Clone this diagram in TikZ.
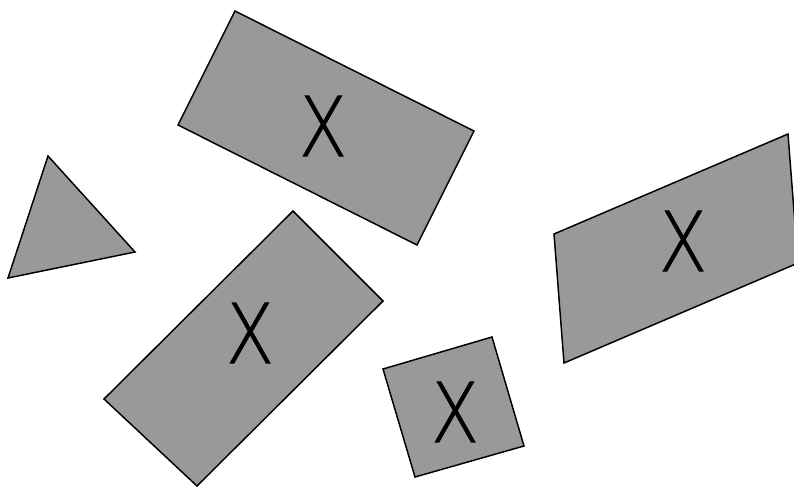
\documentclass[tikz,border=0pt]{standalone}
\usepackage{fontspec}
\newfontfamily\xfont{DejaVu Sans ExtraLight}[FakeBold=1]
\usepackage{tikz}
\tikzset{
  tile/.style={draw=black,fill=black!40,line width=1.1pt,line join=miter},
  mk/.style={inner sep=0pt,font=\xfont\fontsize{62}{62}\selectfont,xscale=0.85}
}

\begin{document}
\begin{tikzpicture}[x=0.75pt,y=-0.75pt]
\useasboundingbox (0,0) rectangle (794,487);
\clip (0,0) rectangle (794,487);
\draw[tile] (235,11) -- (474,131) -- (417,245) -- (178,125) -- cycle; \node[mk] (xa) at (323,126) {X};
\draw[tile] (48,156) -- (135,252) -- (8,278) -- cycle;
\draw[tile] (293,211) -- (383,301) -- (197,486) -- (104,399) -- cycle; \node[mk] (xb) at (250,333) {X};
\draw[tile] (383,369) -- (492,337) -- (524,446) -- (415,477) -- cycle; \node[mk] (xc) at (455,412) {X};
\draw[tile] (554,234) -- (788,134) -- (798,263) -- (564,363) -- cycle; \node[mk] (xd) at (683,241) {X};
\end{tikzpicture}
\end{document}
